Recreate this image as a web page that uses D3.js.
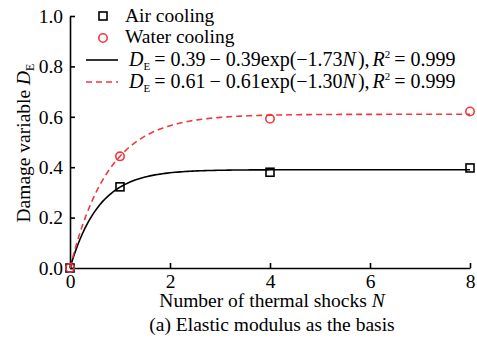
<!DOCTYPE html>
<html><head><meta charset="utf-8">
<script src="https://cdn.jsdelivr.net/npm/d3@7"></script>
<style>body{margin:0;background:#fff}svg{display:block}</style>
</head><body>
<svg id="c" width="477" height="349" font-family="Liberation Serif"></svg>
<script>
const airN = [0, 1, 4, 8];
const airD = [0, 0.322, 0.38, 0.397];
const waterN = [0, 1, 4, 8];
const waterD = [0, 0.443, 0.592, 0.621];
// fit parameters D = a - a*exp(-b N) as given in the legend
const airFit = [0.39, 1.73];
const waterFit = [0.61, 1.30];
const xTicks = [0, 2, 4, 6, 8];
const yTicks = [0, 0.2, 0.4, 0.6, 0.8, 1.0];

const FF = "Liberation Serif";
const FS = "19.5px";
const svg = d3.select("#c");
const x = d3.scaleLinear().domain([0, 8]).range([70, 470]);
const y = d3.scaleLinear().domain([0, 1]).range([268, 16]);
const red = "#f0383f";

// axes
const xa = svg.append("g").attr("transform", "translate(0,268)")
  .call(d3.axisBottom(x).tickValues(xTicks).tickFormat(d3.format("d")).tickSizeInner(-5).tickSizeOuter(0).tickPadding(6));
const ya = svg.append("g").attr("transform", "translate(70,0)")
  .call(d3.axisLeft(y).tickValues(yTicks).tickFormat(d3.format(".1f")).tickSizeInner(-5).tickSizeOuter(0).tickPadding(7));
[xa, ya].forEach(a => {
  a.attr("font-family", FF).attr("font-size", FS);
  a.selectAll("path,line").attr("stroke", "#000").attr("stroke-width", 1.6);
  a.selectAll("text").attr("font-family", FF).attr("fill", "#000");
});
xa.selectAll("text").attr("dy", "0.72em");

// fit curves
const Ns = d3.range(0, 8.0001, 0.05);
const line = d3.line().x(d => x(d[0])).y(d => y(d[1]));
svg.append("path").datum(Ns.map(n => [n, airFit[0] - airFit[0] * Math.exp(-airFit[1] * n)]))
  .attr("d", line).attr("fill", "none").attr("stroke", "#000").attr("stroke-width", 1.6);
svg.append("path").datum(Ns.map(n => [n, waterFit[0] - waterFit[0] * Math.exp(-waterFit[1] * n)]))
  .attr("d", line).attr("fill", "none").attr("stroke", red).attr("stroke-width", 1.6).attr("stroke-dasharray", "6,4");

// markers
svg.selectAll(".sq").data(airN.map((n, i) => [n, airD[i]])).enter().append("rect")
  .attr("x", d => x(d[0]) - 4).attr("y", d => y(d[1]) - 4).attr("width", 8).attr("height", 8)
  .attr("fill", "none").attr("stroke", "#000").attr("stroke-width", 1.6);
svg.selectAll(".ci").data(waterN.map((n, i) => [n, waterD[i]])).enter().append("circle")
  .attr("cx", d => x(d[0])).attr("cy", d => y(d[1])).attr("r", 4.2)
  .attr("fill", "none").attr("stroke", red).attr("stroke-width", 1.6);

// legend
const lg = svg.append("g").attr("font-family", FF).attr("font-size", FS);
lg.append("rect").attr("x", 99).attr("y", 12).attr("width", 8).attr("height", 8).attr("fill", "none").attr("stroke", "#000").attr("stroke-width", 1.6);
lg.append("text").attr("x", 125).attr("y", 22).text("Air cooling");
lg.append("circle").attr("cx", 103).attr("cy", 38).attr("r", 4.2).attr("fill", "none").attr("stroke", red).attr("stroke-width", 1.6);
lg.append("text").attr("x", 125).attr("y", 43).text("Water cooling");
lg.append("line").attr("x1", 86).attr("x2", 118).attr("y1", 60).attr("y2", 60).attr("stroke", "#000").attr("stroke-width", 1.6);
lg.append("line").attr("x1", 86).attr("x2", 118).attr("y1", 82).attr("y2", 82).attr("stroke", red).attr("stroke-width", 1.6).attr("stroke-dasharray", "6,4");

function formula(yy, a, b) {
  const t = lg.append("text").attr("x", 129).attr("y", yy).attr("font-size", "20px");
  t.append("tspan").attr("font-style", "italic").text("D");
  t.append("tspan").attr("dy", 4).attr("font-size", "11px").text("E");
  t.append("tspan").attr("dy", -4).attr("dx", 4).text("= " + a);
  t.append("tspan").attr("dx", 4).text("\u2212 " + a + "exp(\u2212" + b);
  t.append("tspan").attr("font-style", "italic").text("N");
  t.append("tspan").attr("dx", 2).text("),");
  t.append("tspan").attr("dx", 3).attr("font-style", "italic").text("R");
  t.append("tspan").attr("dy", -8).attr("font-size", "11px").text("2");
  t.append("tspan").attr("dy", 8).attr("dx", 4).text("= 0.999");
}
formula(66, "0.39", "1.73");
formula(88, "0.61", "1.30");

// axis titles
const xt = svg.append("text").attr("x", 272).attr("y", 307).attr("text-anchor", "middle")
  .attr("font-family", FF).attr("font-size", FS);
xt.append("tspan").text("Number of thermal shocks ");
xt.append("tspan").attr("font-style", "italic").text("N");
svg.append("text").attr("x", 272).attr("y", 331).attr("text-anchor", "middle")
  .attr("font-family", FF).attr("font-size", FS).text("(a) Elastic modulus as the basis");
const yl = svg.append("text").attr("transform", "translate(30,143) rotate(-90)").attr("text-anchor", "middle")
  .attr("font-family", FF).attr("font-size", FS);
yl.append("tspan").text("Damage variable ");
yl.append("tspan").attr("font-style", "italic").text("D");
yl.append("tspan").attr("dy", 4).attr("font-size", "12px").text("E");
</script>
</body></html>
